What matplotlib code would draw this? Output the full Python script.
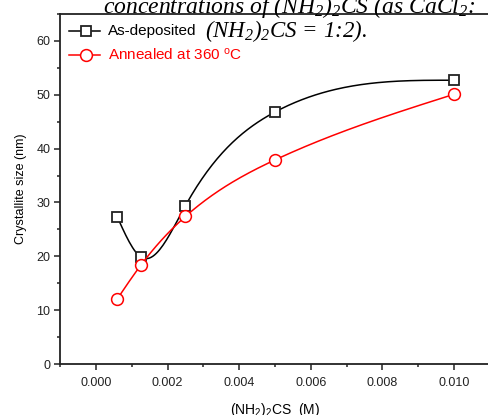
import numpy as np
import matplotlib
matplotlib.use('Agg')
import matplotlib.pyplot as plt
from matplotlib.ticker import MultipleLocator

conc = [0.0006, 0.00125, 0.0025, 0.005, 0.010]
as_deposited = [27.3, 19.9, 29.4, 46.8, 52.7]
annealed = [12.1, 18.3, 27.4, 37.9, 50.1]


def natural_spline(x, y, n=200):
    # plain natural cubic spline, just for the smooth connecting line
    x = np.asarray(x, float)
    y = np.asarray(y, float)
    k = len(x)
    h = np.diff(x)
    A = np.zeros((k, k))
    b = np.zeros(k)
    A[0, 0] = A[-1, -1] = 1
    for i in range(1, k - 1):
        A[i, i - 1] = h[i - 1]
        A[i, i] = 2 * (h[i - 1] + h[i])
        A[i, i + 1] = h[i]
        b[i] = 6 * ((y[i + 1] - y[i]) / h[i] - (y[i] - y[i - 1]) / h[i - 1])
    M = np.linalg.solve(A, b)
    xs = np.linspace(x[0], x[-1], n)
    idx = np.clip(np.searchsorted(x, xs) - 1, 0, k - 2)
    x0, x1 = x[idx], x[idx + 1]
    hh = x1 - x0
    t0, t1 = x1 - xs, xs - x0
    ys = (M[idx] * t0 ** 3 + M[idx + 1] * t1 ** 3) / (6 * hh) \
        + (y[idx] / hh - M[idx] * hh / 6) * t0 \
        + (y[idx + 1] / hh - M[idx + 1] * hh / 6) * t1
    return xs, ys


plt.rcParams['font.family'] = ['Liberation Sans', 'DejaVu Sans']
plt.rcParams['mathtext.fontset'] = 'custom'
plt.rcParams['mathtext.rm'] = 'Liberation Serif:italic'
plt.rcParams['mathtext.it'] = 'Liberation Serif:italic'
plt.rcParams['mathtext.sf'] = 'Liberation Sans'

fig = plt.figure(figsize=(4.88, 4.15), dpi=100)
ax = fig.add_axes([60 / 488, 1 - 364 / 415, (490 - 60) / 488, (364 - 14) / 415])

xs, ys = natural_spline(conc, as_deposited)
ax.plot(xs, ys, color='black', lw=1.1)
ax.plot(conc, as_deposited, ls='none', marker='s', ms=7.5, mfc='white',
        mec='#222222', mew=1.3)
xs, ys = natural_spline(conc, annealed)
ax.plot(xs, ys, color='red', lw=1.1)
ax.plot(conc, annealed, ls='none', marker='o', ms=8.5, mfc='white',
        mec='red', mew=1.1)

# legend drawn by hand, Origin style
ax.plot([-0.00075, 0.00012], [61.9, 61.9], color='black', lw=1.1)
ax.plot([-0.00027], [61.9], marker='s', ms=7.5, mfc='white', mec='#222222', mew=1.3)
ax.text(0.00034, 61.9, 'As-deposited', fontsize=11, va='center', ha='left')
ax.plot([-0.00075, 0.00012], [57.4, 57.4], color='red', lw=1.1)
ax.plot([-0.00027], [57.4], marker='o', ms=8.5, mfc='white', mec='red', mew=1.1)
ax.text(0.00034, 57.4, 'Annealed at 360 $^{\\mathsf{o}}$C', fontsize=11,
        va='center', ha='left', color='red')

ax.set_xlim(-0.001, 0.011)
ax.set_ylim(0, 65)
ax.xaxis.set_major_locator(MultipleLocator(0.002))
ax.xaxis.set_minor_locator(MultipleLocator(0.001))
ax.yaxis.set_major_locator(MultipleLocator(10))
ax.yaxis.set_minor_locator(MultipleLocator(5))
ax.xaxis.set_major_formatter(lambda v, p: '%.3f' % v)
ax.tick_params(which='major', length=4, width=1.1, labelsize=9, colors='#222222', pad=5)
ax.tick_params(which='minor', length=2.5, width=1.1, colors='#222222')
ax.tick_params(axis='y', pad=3)
ax.set_xticks([v for v in ax.get_xticks() if v >= 0])
ax.set_xlim(-0.001, 0.011)
for s in ['left', 'bottom', 'top']:
    ax.spines[s].set_linewidth(1.3)
    ax.spines[s].set_color('#222222')
ax.spines['right'].set_visible(False)

ax.set_ylabel('Crystallite size (nm)', fontsize=9, labelpad=7)
ax.set_xlabel('(NH$_{\\mathsf{2}}$)$_{\\mathsf{2}}$CS  (M)', fontsize=10, labelpad=9)

# leftover caption text pasted over the figure
fig.text(289 / 488, 1 - 13 / 415, 'concentrations of (NH$_2$)$_2$CS (as CaCl$_2$:',
         fontsize=17, family='Liberation Serif', style='italic', ha='center',
         va='baseline')
fig.text(205 / 488, 1 - 37 / 415, '(NH$_2$)$_2$CS = 1:2).', fontsize=16.5,
         family='Liberation Serif', style='italic', ha='left', va='baseline')

fig.savefig('out.png', dpi=100)
